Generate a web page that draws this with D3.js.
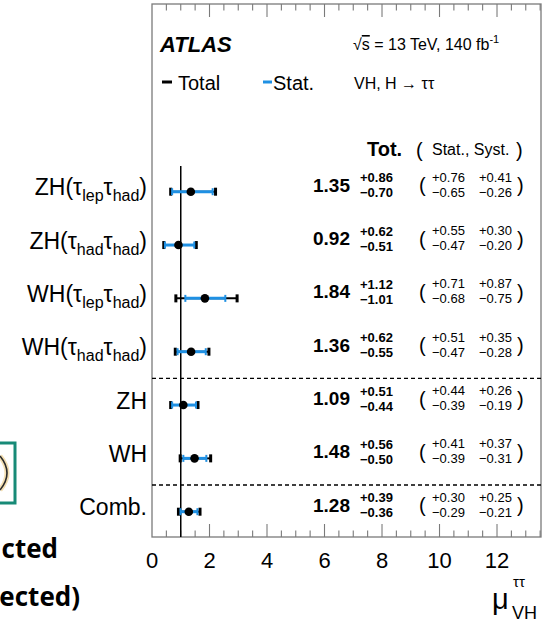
<!DOCTYPE html>
<html>
<head>
<meta charset="utf-8">
<script src="https://cdn.jsdelivr.net/npm/d3@7"></script>
<style>
  html, body { margin: 0; padding: 0; background: #fff; }
  svg { display: block; }
  text { font-family: "Liberation Sans", Arial, Helvetica, sans-serif; fill: #000; }
</style>
</head>
<body>
<script>
// Category labels: [main text, subscript, main text, subscript, closing]
const categories = [
  [["ZH(τ", 0], ["lep", 1], ["τ", 0], ["had", 1], [")", 0]],
  [["ZH(τ", 0], ["had", 1], ["τ", 0], ["had", 1], [")", 0]],
  [["WH(τ", 0], ["lep", 1], ["τ", 0], ["had", 1], [")", 0]],
  [["WH(τ", 0], ["had", 1], ["τ", 0], ["had", 1], [")", 0]],
  [["ZH", 0]],
  [["WH", 0]],
  [["Comb.", 0]]
];
const mu     = [1.35, 0.92, 1.84, 1.36, 1.09, 1.48, 1.28];
const totUp  = [0.86, 0.62, 1.12, 0.62, 0.51, 0.56, 0.39];
const totDn  = [0.70, 0.51, 1.01, 0.55, 0.44, 0.50, 0.36];
const statUp = [0.76, 0.55, 0.71, 0.51, 0.44, 0.41, 0.30];
const statDn = [0.65, 0.47, 0.68, 0.47, 0.39, 0.39, 0.29];
const systUp = [0.41, 0.30, 0.87, 0.35, 0.26, 0.37, 0.25];
const systDn = [0.26, 0.20, 0.75, 0.28, 0.19, 0.31, 0.21];
const majorTicks = [0, 2, 4, 6, 8, 10, 12];
const separatorsAfter = [3, 5];   // dashed lines after these rows
const smValue = 1;

const W = 543, H = 622;
const frame = { left: 152, right: 541, top: 4, bottom: 537 };
const blue = "#1f90e3";
const frameGrey = "#7a7a7a";

const svg = d3.select("body").append("svg").attr("width", W).attr("height", H);

const x = d3.scaleLinear().domain([0, 13.53]).range([frame.left, frame.right]);
const y = d3.scaleLinear().domain([0, 6]).range([191.7, 511.7]);
const rows = d3.range(mu.length);
const fmt = d3.format(".2f");
const minus = s => s.replace("-", "−");

// ---- slide fragments at the left edge ----
svg.append("rect").attr("x", -10).attr("y", 443).attr("width", 25).attr("height", 60)
  .attr("fill", "#fff").attr("stroke", "#178a77").attr("stroke-width", 3);
// glossy bracket shape inside the box
const bracket = d3.path();
bracket.moveTo(0, 456);
bracket.quadraticCurveTo(14, 473, 0, 490);
svg.append("path").attr("d", bracket.toString()).attr("fill", "none")
  .attr("stroke", "#f3dfb2").attr("stroke-width", 5);
svg.append("path").attr("d", bracket.toString()).attr("fill", "none")
  .attr("stroke", "#2b2b2b").attr("stroke-width", 1.6);
svg.append("text").attr("x", 58).attr("y", 558).attr("text-anchor", "end")
  .style("font-family", "'Open Sans', sans-serif").style("font-weight", 700).style("font-size", "26px")
  .text("cted");
svg.append("text").attr("x", 80).attr("y", 606).attr("text-anchor", "end")
  .style("font-family", "'Open Sans', sans-serif").style("font-weight", 700).style("font-size", "26px")
  .text("ected)");

// ---- frame and ticks ----
svg.append("rect").attr("x", frame.left).attr("y", frame.top)
  .attr("width", frame.right - frame.left).attr("height", frame.bottom - frame.top)
  .attr("fill", "none").attr("stroke", frameGrey).attr("stroke-width", 1.3);

const minorTicks = d3.range(0.5, 13.51, 0.5).filter(v => !majorTicks.includes(v));
const allTicks = majorTicks.filter(v => v > 0).map(v => ({ v, len: 13 }))
  .concat(minorTicks.map(v => ({ v, len: 6.5 })));
const tickG = svg.append("g").attr("stroke", frameGrey).attr("stroke-width", 1.1);
tickG.selectAll("line.b").data(allTicks).join("line").attr("class", "b")
  .attr("x1", d => x(d.v)).attr("x2", d => x(d.v))
  .attr("y1", frame.bottom).attr("y2", d => frame.bottom - d.len);
tickG.selectAll("line.t").data(allTicks).join("line").attr("class", "t")
  .attr("x1", d => x(d.v)).attr("x2", d => x(d.v))
  .attr("y1", frame.top).attr("y2", d => frame.top + d.len);

svg.append("g").selectAll("text").data(majorTicks).join("text")
  .attr("x", d => x(d)).attr("y", 568).attr("text-anchor", "middle")
  .style("font-size", "22px").text(d => d);

// axis title mu_VH^tautau
svg.append("text").attr("x", 492).attr("y", 609).style("font-size", "29px").text("μ");
svg.append("text").attr("x", 513).attr("y", 587).style("font-size", "15px").text("ττ");
svg.append("text").attr("x", 512).attr("y", 619).style("font-size", "18px").text("VH");

// ---- reference line at mu = 1 ----
svg.append("line").attr("x1", x(smValue)).attr("x2", x(smValue))
  .attr("y1", 166).attr("y2", frame.bottom)
  .attr("stroke", "#000").attr("stroke-width", 1.5);

// ---- dashed separators ----
svg.append("g").selectAll("line").data(separatorsAfter).join("line")
  .attr("x1", frame.left).attr("x2", frame.right)
  .attr("y1", d => (y(d) + y(d + 1)) / 2).attr("y2", d => (y(d) + y(d + 1)) / 2)
  .attr("stroke", "#000").attr("stroke-width", 1.4).attr("stroke-dasharray", "4,3");

// ---- header texts ----
svg.append("text").attr("x", 160).attr("y", 52)
  .style("font-size", "22px").style("font-weight", 700).style("font-style", "italic").text("ATLAS");

const cm = svg.append("text").attr("x", 353).attr("y", 50).style("font-size", "16px");
cm.append("tspan").text("√");
cm.append("tspan").style("text-decoration", "overline").text("s");
cm.append("tspan").text(" = 13 TeV, 140 fb");
cm.append("tspan").attr("dy", -7).style("font-size", "11px").text("-1");

svg.append("line").attr("x1", 162).attr("x2", 172).attr("y1", 82).attr("y2", 82)
  .attr("stroke", "#000").attr("stroke-width", 3);
svg.append("text").attr("x", 178).attr("y", 90).style("font-size", "20px").text("Total");
svg.append("line").attr("x1", 263).attr("x2", 272).attr("y1", 82).attr("y2", 82)
  .attr("stroke", blue).attr("stroke-width", 3);
svg.append("text").attr("x", 273).attr("y", 90).style("font-size", "20px").text("Stat.");
svg.append("text").attr("x", 354).attr("y", 89).style("font-size", "16px").text("VH, H → ττ");

svg.append("text").attr("x", 367).attr("y", 156)
  .style("font-size", "20px").style("font-weight", 700).text("Tot.");
svg.append("text").attr("x", 416).attr("y", 157).style("font-size", "20px").text("(");
svg.append("text").attr("x", 432).attr("y", 155).style("font-size", "16px").text("Stat., Syst.");
svg.append("text").attr("x", 516).attr("y", 157).style("font-size", "20px").text(")");

// ---- category labels ----
const lab = svg.append("g").selectAll("text").data(rows).join("text")
  .attr("x", 147).attr("y", i => y(i) + 3.5).attr("text-anchor", "end")
  .style("font-size", "23px");
lab.each(function (i) {
  const t = d3.select(this);
  let shift = 0;
  categories[i].forEach(([s, sub]) => {
    const target = sub ? 6 : 0;
    t.append("tspan").attr("dy", target - shift)
      .style("font-size", sub ? "16px" : "23px").text(s);
    shift = target;
  });
});

// ---- error bars ----
const bars = svg.append("g").selectAll("g").data(rows).join("g");
// total (black)
bars.append("line")
  .attr("x1", i => x(mu[i] - totDn[i])).attr("x2", i => x(mu[i] + totUp[i]))
  .attr("y1", i => y(i)).attr("y2", i => y(i))
  .attr("stroke", "#000").attr("stroke-width", 2);
[i => mu[i] - totDn[i], i => mu[i] + totUp[i]].forEach(f => {
  bars.append("rect").attr("x", i => x(f(i)) - 1.5).attr("y", i => y(i) - 4)
    .attr("width", 3).attr("height", 8).attr("fill", "#000");
});
// stat (blue)
bars.append("line")
  .attr("x1", i => x(mu[i] - statDn[i])).attr("x2", i => x(mu[i] + statUp[i]))
  .attr("y1", i => y(i)).attr("y2", i => y(i))
  .attr("stroke", blue).attr("stroke-width", 3);
[i => mu[i] - statDn[i], i => mu[i] + statUp[i]].forEach(f => {
  bars.append("rect").attr("x", i => x(f(i)) - 1).attr("y", i => y(i) - 3.5)
    .attr("width", 2).attr("height", 7).attr("fill", blue);
});
bars.append("circle").attr("cx", i => x(mu[i])).attr("cy", i => y(i)).attr("r", 4.3).attr("fill", "#000");

// ---- numeric columns ----
const num = svg.append("g").selectAll("g").data(rows).join("g");
num.append("text").attr("x", 313).attr("y", i => y(i))
  .style("font-size", "19px").style("font-weight", 700).text(i => fmt(mu[i]));
num.append("text").attr("x", 360).attr("y", i => y(i) - 9.5)
  .style("font-size", "13px").style("font-weight", 700).text(i => "+" + fmt(totUp[i]));
num.append("text").attr("x", 360).attr("y", i => y(i) + 5.5)
  .style("font-size", "13px").style("font-weight", 700).text(i => minus("-" + fmt(totDn[i])));
num.append("text").attr("x", 419).attr("y", i => y(i) + 0.5)
  .style("font-size", "20px").text("(");
num.append("text").attr("x", 432).attr("y", i => y(i) - 10)
  .style("font-size", "13px").text(i => "+" + fmt(statUp[i]));
num.append("text").attr("x", 432).attr("y", i => y(i) + 5)
  .style("font-size", "13px").text(i => minus("-" + fmt(statDn[i])));
num.append("text").attr("x", 479).attr("y", i => y(i) - 10)
  .style("font-size", "13px").text(i => "+" + fmt(systUp[i]));
num.append("text").attr("x", 479).attr("y", i => y(i) + 5)
  .style("font-size", "13px").text(i => minus("-" + fmt(systDn[i])));
num.append("text").attr("x", 517).attr("y", i => y(i) + 0.5)
  .style("font-size", "20px").text(")");
</script>
</body>
</html>
